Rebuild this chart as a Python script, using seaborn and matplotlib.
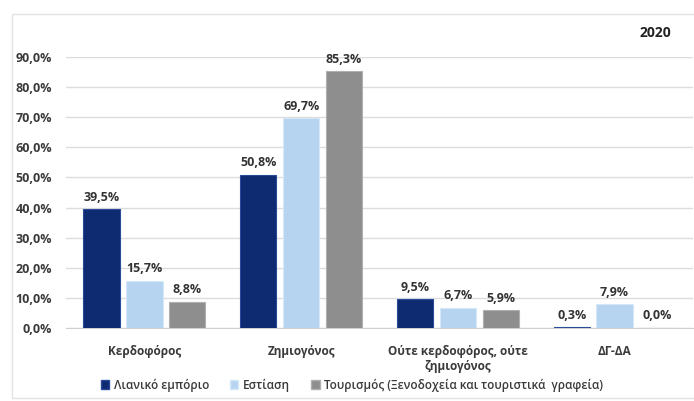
import matplotlib.pyplot as plt
import matplotlib.patches as mpatches
from matplotlib.ticker import FuncFormatter
import pandas as pd
import seaborn as sns

# δεδομένα (διαβασμένα από το γράφημα)
categories = ['Κερδοφόρος', 'Ζημιογόνος', 'Ούτε κερδοφόρος, ούτε\nζημιογόνος', 'ΔΓ-ΔΑ']
sectors = ['Λιανικό εμπόριο', 'Εστίαση', 'Τουρισμός (Ξενοδοχεία και τουριστικά  γραφεία)']
retail = [39.5, 50.8, 9.5, 0.3]
food = [15.7, 69.7, 6.7, 7.9]
tourism = [8.8, 85.3, 5.9, 0.0]
colors = ['#0e2a70', '#b6d4f0', '#8e8e8e']
edge_colors = ['#2a4a9a', '#d6e8f8', '#b0b0b0']

df = pd.DataFrame({
    'κατηγορία': categories * 3,
    'κλάδος': [s for s in sectors for _ in categories],
    'τιμή': retail + food + tourism,
})

sns.set_style('white')
plt.rcParams['font.family'] = ['Open Sans', 'DejaVu Sans']
plt.rcParams['text.color'] = '#3a3a3a'

fig = plt.figure(figsize=(6.94, 4.01), dpi=100)
ax = fig.add_axes([66 / 694, 1 - 328 / 401, 627 / 694, 271 / 401])

# πλαίσιο γραφήματος
fig.patches.append(mpatches.Rectangle((12 / 694, 1 - 398 / 401), 690 / 694, 384 / 401,
                                      transform=fig.transFigure, fill=False,
                                      edgecolor='#e3e3e3', linewidth=1.0, zorder=0))

sns.barplot(data=df, x='κατηγορία', y='τιμή', hue='κλάδος', order=categories,
            hue_order=sectors, palette=colors, saturation=1, width=0.82, gap=0.15,
            ax=ax, legend=False, zorder=3)

for cont, ec in zip(ax.containers, edge_colors):
    for bar in cont:
        bar.set_edgecolor(ec)
        bar.set_linewidth(0.8)
    vals = [b.get_height() for b in cont]
    ax.bar_label(cont, labels=[f'{v:.1f}%'.replace('.', ',') for v in vals],
                 padding=4, fontsize=9, fontweight='bold', color='#333333')

ax.set_ylim(0, 90)
ax.set_xlim(-0.5, 3.5)
ax.set_yticks(range(0, 91, 10))
ax.yaxis.set_major_formatter(FuncFormatter(lambda v, p: f'{v:.1f}%'.replace('.', ',')))
ax.grid(axis='y', color='#dcdcdc', linewidth=1.0, zorder=0)
ax.set_axisbelow(True)
for s in ['top', 'right', 'left']:
    ax.spines[s].set_visible(False)
ax.spines['bottom'].set_color('#d0d0d0')
ax.tick_params(axis='both', length=0, labelsize=8.5, colors='#3a3a3a')
ax.tick_params(axis='y', labelsize=9, pad=10)
ax.tick_params(axis='x', pad=12)
for lab in ax.get_xticklabels() + ax.get_yticklabels():
    lab.set_fontweight('bold')
ax.set_xlabel('')
ax.set_ylabel('')

fig.text(655 / 694, 1 - 33 / 401, '2020', ha='center', va='center',
         fontsize=10, fontweight='bold', color='#222222')

handles = [mpatches.Patch(facecolor=c, edgecolor=e) for c, e in zip(colors, edge_colors)]
fig.legend(handles, sectors, loc='center', bbox_to_anchor=(352 / 694, 1 - 385 / 401),
           ncol=3, frameon=False, prop={'size': 8.5, 'weight': 'semibold'},
           handlelength=0.7, handleheight=0.7,
           handletextpad=0.4, columnspacing=1.8)

plt.savefig('out.png', dpi=100)
